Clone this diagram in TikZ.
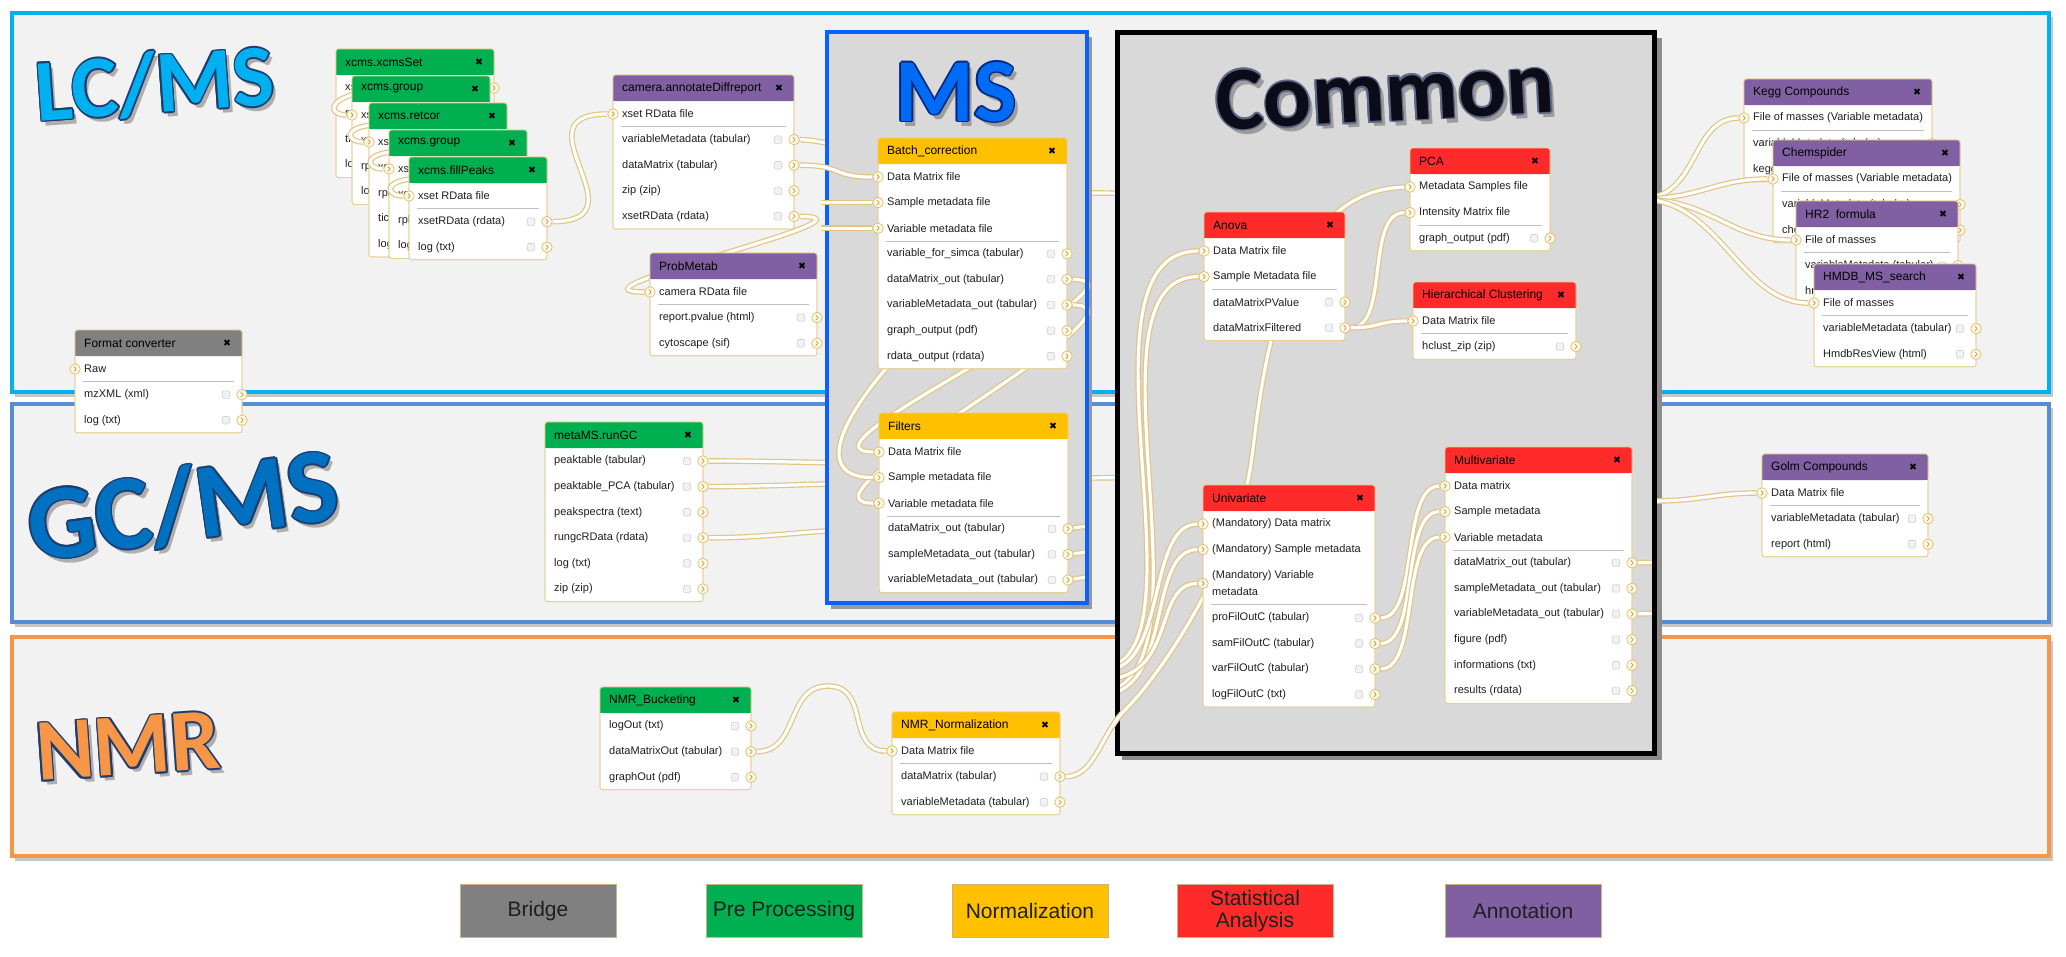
\documentclass[tikz,border=0pt]{standalone}
\usepackage{fontspec}
\setmainfont{Liberation Sans}
\newfontfamily\bigf{Carlito}
\newfontfamily\symf{DejaVu Sans}
\usetikzlibrary{calc}
\definecolor{connc}{RGB}{226,196,130}
\definecolor{termc}{RGB}{226,186,100}
\definecolor{termf}{RGB}{255,248,230}
\definecolor{nodeb}{RGB}{232,208,150}
\definecolor{greenh}{RGB}{0,176,80}
\definecolor{purpleh}{RGB}{128,96,162}
\definecolor{redh}{RGB}{255,42,42}
\definecolor{yellowh}{RGB}{255,192,0}
\definecolor{grayh}{RGB}{128,128,128}
\definecolor{regbg}{RGB}{242,242,242}
\definecolor{lcc}{RGB}{0,176,240}
\definecolor{gcc}{RGB}{85,142,213}
\definecolor{gcfill}{RGB}{0,112,192}
\definecolor{nmrc}{RGB}{247,150,70}
\definecolor{msc}{RGB}{10,96,255}
\definecolor{msfill}{RGB}{0,108,245}
\definecolor{msout}{RGB}{0,40,130}
\definecolor{commfill}{RGB}{12,12,24}
\definecolor{commout}{RGB}{95,105,135}
\definecolor{boxbg}{RGB}{217,217,217}
\definecolor{sepc}{RGB}{190,190,190}
\definecolor{outl}{RGB}{30,60,110}
\definecolor{legb}{RGB}{200,180,130}
\pgfdeclarelayer{bg}\pgfdeclarelayer{hid}\pgfdeclarelayer{box}\pgfdeclarelayer{conn}
\pgfdeclarelayer{border}\pgfdeclarelayer{conntop}\pgfdeclarelayer{nodes}
\pgfdeclarelayer{sa}\pgfdeclarelayer{sb}\pgfdeclarelayer{sc}\pgfdeclarelayer{sd}\pgfdeclarelayer{se}
\pgfsetlayers{bg,hid,box,conn,border,conntop,nodes,sa,sb,sc,sd,se,main}
\tikzset{
  conn/.style={draw=connc,line width=1.2pt,double=white,double distance=3.2pt},
  term/.style={circle,draw=termc,fill=termf,line width=0.7pt,minimum size=10.5pt,inner sep=0pt,
    path picture={\draw[termc!85!black,line width=0.75pt,line cap=round,line join=round]
      ([shift={(-1.1pt,2.4pt)}]path picture bounding box.center) -- ++(2.3pt,-2.4pt) -- ++(-2.3pt,-2.4pt);}},
  rowtext/.style={anchor=west,inner sep=0pt,align=left,text=black!88,font=\fontsize{11}{17}\selectfont},
  titletext/.style={anchor=west,inner sep=0pt,text=black,font=\fontsize{12}{14}\selectfont},
  closex/.style={inner sep=0pt,text=black,font=\symf\fontsize{9.5}{10}\selectfont},
  chk/.style={draw=black!18,fill=black!5,line width=0.6pt,rounded corners=1.5pt,minimum size=7.5pt,inner sep=0pt},
  legbox/.style={draw=legb,line width=1pt,minimum width=156pt,minimum height=53pt,inner sep=0pt,align=center,text=black!88,font=\fontsize{21}{22}\selectfont},
}
\newcommand\gP{25.6}
\newcommand\gH{26}
\newcounter{gout}
\newcommand\gbox[7]{%
  \path[fill=white,draw=nodeb,line width=0.8pt,rounded corners=2.5pt] (#2,#3) rectangle ++(#4,#5);
  \fill[#6,rounded corners=2.5pt] (#2,#3) rectangle ++(#4,\gH);
  \fill[#6] (#2,#3+\gH-4) rectangle ++(#4,4);
  \draw[nodeb,line width=0.8pt,rounded corners=2.5pt] (#2,#3) rectangle ++(#4,#5);
  \node[inner sep=0pt,minimum width=#4pt,minimum height=#5pt,anchor=north west] (#1) at (#2,#3) {};
  \node[titletext] (#1-title) at (#2+9,#3+\gH/2) {#7};
  \node[closex] (#1-x) at (#2+#4-15,#3+\gH/2) {✖};
}
\newcommand\ginrow[4]{%
  \node[rowtext] (#1-t) at (#2+9,#3) {#4};
  \node[term] (#1) at (#2,#3) {};
}
\newcommand\goutrow[5]{%
  \node[rowtext] (#1-t) at (#2+9,#3) {#5};
  \node[chk] (#1-c) at (#2+#4-16,#3) {};
  \node[term] (#1) at (#2+#4,#3) {};
}
\newcommand\gsep[3]{\draw[sepc,line width=0.9pt] (#1+8,#3) -- (#1+#2-8,#3);}
\newcommand\gnode[9]{%
  \setcounter{gout}{0}%
  \foreach \lbl in {#9}{\stepcounter{gout}}%
  \pgfmathsetmacro\gh{\gH+(#7+\number\value{gout})*\gP}%
  \gbox{#1}{#2}{#3}{#4}{\gh}{#5}{#6}%
  \ifnum#7>0\relax
    \foreach \lbl [count=\rk] in {#8}{%
      \pgfmathsetmacro\ry{#3+\gH+13+(\rk-1)*\gP}%
      \ginrow{#1-i\rk}{#2}{\ry}{\lbl}}%
    \pgfmathsetmacro\ry{#3+\gH+13+(#7-0.5)*\gP}%
    \gsep{#2}{#4}{\ry}%
  \fi
  \foreach \lbl [count=\rk] in {#9}{%
    \pgfmathsetmacro\ry{#3+\gH+13+(#7+\rk-1)*\gP}%
    \goutrow{#1-o\rk}{#2}{\ry}{#4}{\lbl}}%
}
\newcommand\biglabel[8]{%
  \node[inner sep=0pt,rotate=#4,text=black,opacity=0.28,font=\bigf\bfseries\fontsize{#5}{#5}\selectfont] (#1-sh) at (#2+4,#3+5) {#8};
  \foreach \ddx/\ddy [count=\qq] in {1.7/0,-1.7/0,0/1.7,0/-1.7,1.2/1.2,-1.2/1.2,1.2/-1.2,-1.2/-1.2}{%
    \node[inner sep=0pt,rotate=#4,text=#7,font=\bigf\bfseries\fontsize{#5}{#5}\selectfont] (#1-o\qq) at (#2+\ddx,#3+\ddy) {#8};}%
  \node[inner sep=0pt,rotate=#4,text=#6,font=\bigf\bfseries\fontsize{#5}{#5}\selectfont] (#1) at (#2,#3) {#8};
}
\begin{document}
\begin{tikzpicture}[x=1pt,y=-1pt]
\useasboundingbox (0,0) rectangle (2066,956);
% ---------- regions
\begin{pgfonlayer}{bg}
\fill[white] (0,0) rectangle (2066,956);
\foreach \ya/\yb/\cc in {13/392/lcc,404/622/gcc,637/856/nmrc}{
  \fill[black!22] (15,\ya+4) rectangle (2053,\yb+5);
  \draw[\cc,line width=4pt,fill=regbg] (12,\ya) rectangle (2049,\yb);
}
\end{pgfonlayer}
% ---------- boxes
\begin{pgfonlayer}{box}
\fill[black!40] (831,37) rectangle (1092,609);
\fill[boxbg] (827,32) rectangle (1087,603);
\fill[black!45] (1122,38) rectangle (1662,760);
\fill[boxbg] (1117,32) rectangle (1654,753);
\end{pgfonlayer}
\begin{pgfonlayer}{border}
\draw[msc,line width=4.5pt] (827,32) rectangle (1087,603);
\draw[black,line width=5pt] (1117,32) rectangle (1654,753);
\end{pgfonlayer}
% ---------- nodes
\begin{pgfonlayer}{nodes}
\gnode{fmt}{75}{330}{167}{grayh}{Format converter}{1}{Raw}{mzXML (xml),log (txt)}
\gnode{cam}{613}{75}{181}{purpleh}{camera.annotateDiffreport}{1}{xset RData file}{variableMetadata (tabular),dataMatrix (tabular),zip (zip),xsetRData (rdata)}
\gnode{prob}{650}{253}{167}{purpleh}{ProbMetab}{1}{camera RData file}{report.pvalue (html),cytoscape (sif)}
\gnode{bat}{878}{138}{189}{yellowh}{Batch\_correction}{3}{Data Matrix file,Sample metadata file,Variable metadata file}{variable\_for\_simca (tabular),dataMatrix\_out (tabular),variableMetadata\_out (tabular),graph\_output (pdf),rdata\_output (rdata)}
\gnode{filt}{879}{413}{189}{yellowh}{Filters}{3}{Data Matrix file,Sample metadata file,Variable metadata file}{dataMatrix\_out (tabular),sampleMetadata\_out (tabular),variableMetadata\_out (tabular)}
\gnode{meta}{545}{422}{158}{greenh}{metaMS.runGC}{0}{}{peaktable (tabular),peaktable\_PCA (tabular),peakspectra (text),rungcRData (rdata),log (txt),zip (zip)}
\gnode{nmrb}{600}{687}{151}{greenh}{NMR\_Bucketing}{0}{}{logOut (txt),dataMatrixOut (tabular),graphOut (pdf)}
\gnode{nmrn}{892}{712}{168}{yellowh}{NMR\_Normalization}{1}{Data Matrix file}{dataMatrix (tabular),variableMetadata (tabular)}
\gnode{anova}{1204}{212}{141}{redh}{Anova}{2}{Data Matrix file,Sample Metadata file}{dataMatrixPValue,dataMatrixFiltered}
\gnode{pca}{1410}{148}{140}{redh}{PCA}{2}{Metadata Samples file,Intensity Matrix file}{graph\_output (pdf)}
\gnode{hc}{1413}{282}{163}{redh}{Hierarchical Clustering}{1}{Data Matrix file}{hclust\_zip (zip)}
\gnode{multi}{1445}{447}{187}{redh}{Multivariate}{3}{Data matrix,Sample metadata,Variable metadata}{dataMatrix\_out (tabular),sampleMetadata\_out (tabular),variableMetadata\_out (tabular),figure (pdf),informations (txt),results (rdata)}
\gbox{univ}{1203}{485}{172}{222}{redh}{Univariate}
\ginrow{univ-i1}{1203}{524}{(Mandatory) Data matrix}
\ginrow{univ-i2}{1203}{549.5}{(Mandatory) Sample metadata}
\ginrow{univ-i3}{1203}{583.5}{(Mandatory) Variable\\metadata}
\gsep{1203}{172}{604}
\goutrow{univ-o1}{1203}{618}{172}{proFilOutC (tabular)}
\goutrow{univ-o2}{1203}{643.5}{172}{samFilOutC (tabular)}
\goutrow{univ-o3}{1203}{669}{172}{varFilOutC (tabular)}
\goutrow{univ-o4}{1203}{694.5}{172}{logFilOutC (txt)}
\gnode{golm}{1762}{454}{166}{purpleh}{Golm Compounds}{1}{Data Matrix file}{variableMetadata (tabular),report (html)}
\end{pgfonlayer}
\begin{pgfonlayer}{sa}
\gnode{xset}{336}{49}{158}{greenh}{xcms.xcmsSet}{0}{}{xsetRData (rdata),rplot (pdf),ticplot (pdf),log (txt)}
\gnode{kegg}{1744}{79}{188}{purpleh}{Kegg Compounds}{1}{File of masses (Variable metadata)}{variableMetadata (tabular),keggCompounds (html)}
\end{pgfonlayer}
\begin{pgfonlayer}{sb}
\gnode{grp1}{352}{76}{138}{greenh}{xcms.group}{1}{xset RData file}{xsetRData (rdata),rplot (pdf),log (txt)}
\gnode{chem}{1773}{140}{187}{purpleh}{Chemspider}{1}{File of masses (Variable metadata)}{variableMetadata (tabular),chemspider (html)}
\end{pgfonlayer}
\begin{pgfonlayer}{sc}
\gnode{ret}{369}{103}{138}{greenh}{xcms.retcor}{1}{xset RData file}{xsetRData (rdata),rplot (pdf),ticplot (pdf),log (txt)}
\gnode{hrtwo}{1796}{201}{162}{purpleh}{HR2\ \ formula}{1}{File of masses}{variableMetadata (tabular),hr2Formula (html)}
\end{pgfonlayer}
\begin{pgfonlayer}{sd}
\gnode{grp2}{389}{130}{138}{greenh}{xcms.group}{1}{xset RData file}{xsetRData (rdata),rplot (pdf),log (txt)}
\gnode{hmdb}{1814}{264}{162}{purpleh}{HMDB\_MS\_search}{1}{File of masses}{variableMetadata (tabular),HmdbResView (html)}
\end{pgfonlayer}
\begin{pgfonlayer}{se}
\gnode{fpk}{409}{157}{138}{greenh}{xcms.fillPeaks}{1}{xset RData file}{xsetRData (rdata),log (txt)}
\end{pgfonlayer}
% ---------- hidden connectors (under the gray boxes)
\begin{pgfonlayer}{hid}
\coordinate (hA) at (1100,193);
\coordinate (hB) at (1640,199);
\draw[conn] (cam-o1) .. controls (850,140) and (960,193) .. (hA) -- (hB);
\coordinate (hM1) at (900,463);
\coordinate (hM2) at (1250,477);
\coordinate (hM4) at (900,529);
\draw[conn] (meta-o1) .. controls (780,461) and (800,463) .. (hM1);
\draw[conn] (meta-o2) .. controls (800,486.6) and (950,477) .. (hM2);
\draw[conn] (meta-o4) .. controls (780,537.8) and (800,529) .. (hM4);
\end{pgfonlayer}
% ---------- connectors
\begin{pgfonlayer}{conn}
\draw[conn] (fpk-o1) .. controls +(100,0) and +(-100,0) .. (cam-i1);
\draw[conn] (cam-o4) .. controls +(100,0) and +(-100,0) .. (prob-i1);
\draw[conn] (bat-o2) .. controls +(100,0) and +(-100,0) .. (filt-i1);
\draw[conn] (bat-o3) .. controls +(100,0) and +(-100,0) .. (filt-i3);
\coordinate (bhid) at (960,300);
\draw[conn] (bhid) .. controls (900,340) and (780,477.6) .. (filt-i2);
\coordinate (fst1) at (1087,526);
\coordinate (fst2) at (1087,552);
\coordinate (fst3) at (1087,577);
\draw[conn] (filt-o1) -- (fst1);
\draw[conn] (filt-o2) -- (fst2);
\draw[conn] (filt-o3) -- (fst3);
\coordinate (cl1) at (1117,664);
\coordinate (cl2) at (1117,688);
\coordinate (cl3) at (1117,668);
\coordinate (cl4) at (1117,692);
\coordinate (cl5) at (1117,678);
\draw[conn] (cl1) .. controls (1200,620) and (1070,251) .. (anova-i1);
\draw[conn] (cl2) .. controls (1210,640) and (1080,276.6) .. (anova-i2);
\draw[conn] (cl3) .. controls (1165,650) and (1150,524) .. (univ-i1);
\draw[conn] (cl4) .. controls (1170,672) and (1150,549.5) .. (univ-i2);
\draw[conn] (cl5) .. controls (1175,665) and (1155,583.5) .. (univ-i3);
\draw[conn] (anova-o2) .. controls (1390,327.8) and (1365,212.6) .. (pca-i2);
\draw[conn] (anova-o2) .. controls (1380,327.8) and (1378,321) .. (hc-i1);
\draw[conn] (univ-o1) .. controls +(45,0) and +(-45,0) .. (multi-i1);
\draw[conn] (univ-o2) .. controls +(45,0) and +(-45,0) .. (multi-i2);
\draw[conn] (univ-o3) .. controls +(45,0) and +(-45,0) .. (multi-i3);
\coordinate (mst1) at (1656,562.5);
\coordinate (mst3) at (1656,613.5);
\draw[conn] (multi-o1) -- (mst1);
\draw[conn] (multi-o3) -- (mst3);
\coordinate (gsrc) at (1653,501);
\draw[conn] (gsrc) .. controls (1700,501) and (1715,493) .. (golm-i1);
\draw[conn] (nmrb-o2) .. controls (800,751.6) and (785,686) .. (828,686) .. controls (871,686) and (845,751) .. (nmrn-i1);
\begin{scope}
\clip (1657,0) rectangle (2066,956);
\draw[conn] (hB) .. controls (1700,199) and (1690,118) .. (kegg-i1);
\end{scope}
\end{pgfonlayer}
\begin{pgfonlayer}{conntop}
\draw[conn] (cam-o2) .. controls (845,165.2) and (830,177) .. (bat-i1);
\coordinate (bl2) at ([xshift=-57pt]bat-i2);
\coordinate (bl3) at ([xshift=-57pt]bat-i3);
\draw[conn] (bl2) -- (bat-i2);
\draw[conn] (bl3) -- (bat-i3);
\draw[conn] (nmrn-o1) .. controls (1095,776.6) and (1100,735) .. (1125,710) .. controls (1165,670) and (1235,560) .. (1250,470) .. controls (1260,410) and (1270,190) .. (pca-i1);
\end{pgfonlayer}
\begin{pgfonlayer}{sa}
\draw[conn] (xset-o1) .. controls ($(grp1-i1)+(-30,-38)$) and +(-32,0) .. (grp1-i1);
\begin{scope}
\clip (1657,0) rectangle (2066,956);
\draw[conn] (hB) .. controls (1700,199) and (1715,179) .. (chem-i1);
\end{scope}
\end{pgfonlayer}
\begin{pgfonlayer}{sb}
\draw[conn] (grp1-o1) .. controls ($(ret-i1)+(-30,-38)$) and +(-32,0) .. (ret-i1);
\begin{scope}
\clip (1657,0) rectangle (2066,956);
\draw[conn] (hB) .. controls (1710,199) and (1730,240) .. (hrtwo-i1);
\end{scope}
\end{pgfonlayer}
\begin{pgfonlayer}{sc}
\draw[conn] (ret-o1) .. controls ($(grp2-i1)+(-30,-38)$) and +(-32,0) .. (grp2-i1);
\begin{scope}
\clip (1657,0) rectangle (2066,956);
\draw[conn] (hB) .. controls (1720,199) and (1740,303) .. (hmdb-i1);
\end{scope}
\end{pgfonlayer}
\begin{pgfonlayer}{sd}
\draw[conn] (grp2-o1) .. controls ($(fpk-i1)+(-30,-38)$) and +(-32,0) .. (fpk-i1);
\end{pgfonlayer}
% ---------- big labels
\biglabel{lcms}{155}{84}{4}{88}{lcc}{outl}{LC/MS}
\biglabel{gcms}{183}{506}{8}{106}{gcfill}{outl}{GC/MS}
\biglabel{nmr}{128}{746}{4}{88}{nmrc}{outl}{NMR}
\biglabel{mslab}{956}{92}{0}{90}{msfill}{msout}{MS}
\biglabel{common}{1385}{92}{3}{90}{commfill}{commout}{Common}
% ---------- legend
\node[legbox,fill=grayh] (lg1) at (538,911) {Bridge};
\node[legbox,fill=greenh] (lg2) at (784,911) {Pre Processing};
\node[legbox,fill=yellowh] (lg3) at (1030,911) {Normalization};
\node[legbox,fill=redh] (lg4) at (1255,911) {Statistical\\Analysis};
\node[legbox,fill=purpleh] (lg5) at (1523,911) {Annotation};
\end{tikzpicture}
\end{document}
